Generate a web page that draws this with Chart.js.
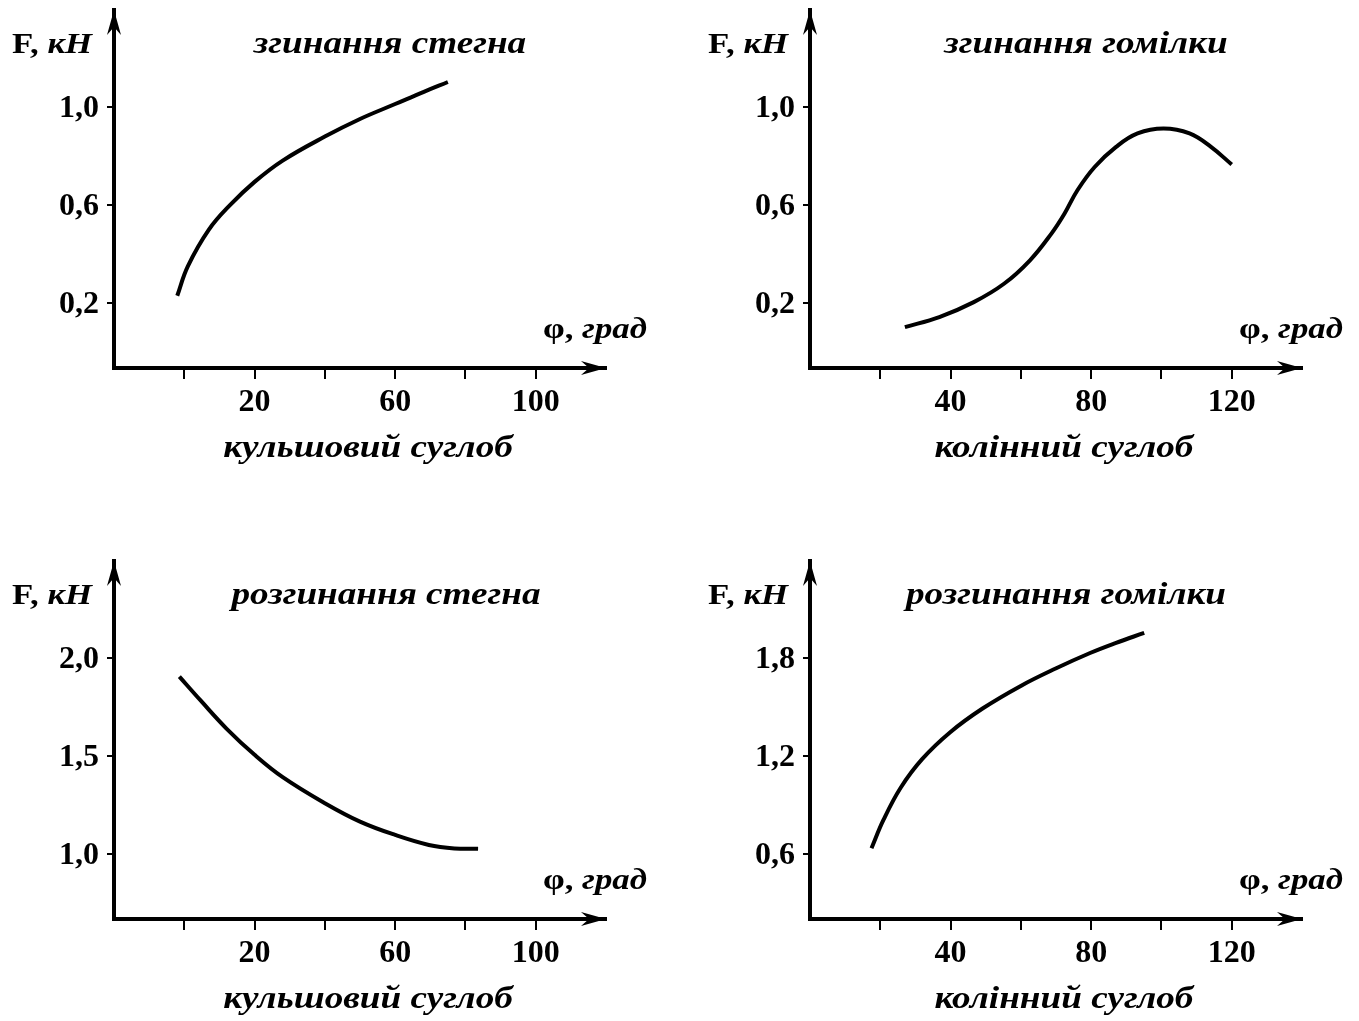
<!DOCTYPE html>
<html>
<head>
<meta charset="utf-8">
<script src="https://cdn.jsdelivr.net/npm/chart.js@4.4.1/dist/chart.umd.min.js"></script>
<style>
  html, body { margin: 0; padding: 0; background: #fff; overflow: hidden; }
  .panel { position: absolute; width: 680px; height: 480px; }
</style>
</head>
<body>
<div class="panel" style="left:0;top:0"><canvas id="hip-flex" width="680" height="480"></canvas></div>
<div class="panel" style="left:696px;top:0"><canvas id="knee-flex" width="680" height="480"></canvas></div>
<div class="panel" style="left:0;top:551px"><canvas id="hip-ext" width="680" height="480"></canvas></div>
<div class="panel" style="left:696px;top:551px"><canvas id="knee-ext" width="680" height="480"></canvas></div>
<script>
// ─── Data ─────────────────────────────────────────────────────────────────────
const hipFlexAngle = [-2, 1, 7, 13, 20, 28, 40, 50, 60, 68, 75];
const hipFlexForce = [0.23, 0.35, 0.50, 0.60, 0.695, 0.782, 0.88, 0.952, 1.013, 1.062, 1.103];

const kneeFlexAngle = [27, 36.8, 46.6, 55.2, 62.6, 68.7, 72.4, 76.1, 81, 87.1, 93.2, 100.6, 108, 114.1, 120];
const kneeFlexForce = [0.102, 0.143, 0.204, 0.279, 0.375, 0.484, 0.565, 0.661, 0.756, 0.838, 0.893, 0.913, 0.893, 0.838, 0.766];

const hipExtAngle = [-1.4, 4.7, 12, 20, 28, 40, 50, 60, 69.6, 76.9, 83.6];
const hipExtForce = [1.905, 1.782, 1.64, 1.506, 1.392, 1.259, 1.165, 1.097, 1.046, 1.028, 1.026];

const kneeExtAngle = [17.5, 20.9, 25.8, 31.9, 39.9, 49.1, 60.1, 69.9, 79.7, 87.1, 95.1];
const kneeExtForce = [0.635, 0.808, 1.005, 1.18, 1.345, 1.49, 1.63, 1.735, 1.83, 1.892, 1.953];

const hipAngleTicks = [0, 20, 40, 60, 80, 100];
const hipAngleLabels = [20, 60, 100];
const kneeAngleTicks = [20, 40, 60, 80, 100, 120];
const kneeAngleLabels = [40, 80, 120];

const flexForceTicks = [0.2, 0.6, 1.0];
const hipExtForceTicks = [1.0, 1.5, 2.0];
const kneeExtForceTicks = [0.6, 1.2, 1.8];

const titles = ['згинання стегна', 'згинання гомілки', 'розгинання стегна', 'розгинання гомілки'];
const jointNames = ['кульшовий суглоб', 'колінний суглоб'];

// ─── Styling ──────────────────────────────────────────────────────────────────
const SERIF = '"Liberation Serif", "Times New Roman", serif';
const BOLD = `bold 29px ${SERIF}`;
const BOLD_IT = `italic bold 29px ${SERIF}`;
const TITLE_FONT = `italic bold 31px ${SERIF}`;
const STRETCH = 1.2; // the scanned figure is wider than the type it was set in

// Text made of differently styled runs, widened horizontally
function drawRich(ctx, x, y, parts, align = 'left') {
  ctx.textAlign = 'left';
  let total = 0;
  parts.forEach(([text, font]) => { ctx.font = font; total += ctx.measureText(text).width; });
  ctx.save();
  ctx.translate(align === 'center' ? x - total * STRETCH / 2 : x, y);
  ctx.scale(STRETCH, 1);
  let cx = 0;
  parts.forEach(([text, font]) => {
    ctx.font = font;
    ctx.fillText(text, cx, 0);
    cx += ctx.measureText(text).width;
  });
  ctx.restore();
}

function arrowHead(ctx, tx, ty, dir) {
  const len = 25, half = 7, notch = 17;
  ctx.beginPath();
  if (dir === 'right') {
    ctx.moveTo(tx, ty);
    ctx.lineTo(tx - len, ty - half);
    ctx.lineTo(tx - notch, ty);
    ctx.lineTo(tx - len, ty + half);
  } else {
    ctx.moveTo(tx, ty);
    ctx.lineTo(tx - half, ty + len);
    ctx.lineTo(tx, ty + notch);
    ctx.lineTo(tx + half, ty + len);
  }
  ctx.closePath();
  ctx.fill();
}

// Arrows, axis names and captions
const decorPlugin = {
  id: 'decor',
  afterDraw(chart, args, o) {
    const ctx = chart.ctx;
    const { left, top, right, bottom } = chart.chartArea;
    const xLine = chart.scales.x._borderValue ?? bottom;
    const yLine = chart.scales.y._borderValue ?? left;
    ctx.save();
    ctx.fillStyle = '#000';
    ctx.strokeStyle = '#000';
    ctx.lineWidth = 4;
    ctx.beginPath();
    ctx.moveTo(right - 10, xLine);
    ctx.lineTo(right, xLine);
    ctx.moveTo(yLine, top + 10);
    ctx.lineTo(yLine, top);
    ctx.stroke();
    arrowHead(ctx, right, xLine, 'right');
    arrowHead(ctx, yLine, top, 'up');

    ctx.textBaseline = 'alphabetic';
    drawRich(ctx, 12, 53, [['F, ', BOLD], ['кН', BOLD_IT]]);
    drawRich(ctx, 543, 338, [['φ, ', BOLD], ['град', BOLD_IT]]);
    drawRich(ctx, o.titleX, 53, [[o.title, TITLE_FONT]], 'center');
    drawRich(ctx, 368, 457, [[o.joint, TITLE_FONT]], 'center');
    ctx.restore();
  }
};

const fmt = v => v.toFixed(1).replace('.', ',');

function makePanel(id, cfg) {
  const ctx = document.getElementById(id).getContext('2d');
  return new Chart(ctx, {
    type: 'line',
    data: {
      datasets: [{
        data: cfg.angle.map((a, i) => ({ x: a, y: cfg.force[i] })),
        borderColor: '#000',
        borderWidth: 4,
        borderCapStyle: 'butt',
        pointRadius: 0,
        tension: 0.4,
        fill: false,
      }],
    },
    options: {
      responsive: false,
      animation: false,
      layout: { padding: { left: 0, top: 10, right: 74, bottom: 0 } },
      plugins: {
        legend: { display: false },
        tooltip: { enabled: false },
        decor: { title: cfg.title, titleX: cfg.titleX, joint: cfg.joint },
      },
      scales: {
        x: {
          type: 'linear',
          min: cfg.xMin,
          max: cfg.xMax,
          afterFit: s => { s.height = 112; s.paddingLeft = 0; s.paddingRight = 0; },
          afterBuildTicks: s => { s.ticks = cfg.xTicks.map(v => ({ value: v })); },
          grid: { drawOnChartArea: false, drawTicks: true, tickLength: 11, color: '#000', lineWidth: 2 },
          border: { display: true, color: '#000', width: 4 },
          ticks: {
            autoSkip: false,
            maxRotation: 0,
            padding: 5,
            color: '#000',
            font: { family: SERIF, size: 32, weight: 'bold' },
            callback: v => (cfg.xLabels.includes(v) ? String(v) : ''),
          },
        },
        y: {
          type: 'linear',
          min: cfg.yMin,
          max: cfg.yMax,
          afterFit: s => { s.width = 114; s.paddingTop = 0; s.paddingBottom = 0; },
          afterBuildTicks: s => { s.ticks = cfg.yTicks.map(v => ({ value: v })); },
          grid: { drawOnChartArea: false, drawTicks: true, tickLength: 7, color: '#000', lineWidth: 2 },
          border: { display: true, color: '#000', width: 4 },
          ticks: {
            padding: 8,
            labelOffset: 2,
            color: '#000',
            font: { family: SERIF, size: 32, weight: 'bold' },
            callback: v => fmt(v),
          },
        },
      },
    },
    plugins: [decorPlugin],
  });
}

makePanel('hip-flex', {
  angle: hipFlexAngle, force: hipFlexForce,
  xMin: -20, xMax: 120, xTicks: hipAngleTicks, xLabels: hipAngleLabels,
  yMin: -0.065, yMax: 1.397, yTicks: flexForceTicks,
  title: titles[0], titleX: 390, joint: jointNames[0],
});
makePanel('knee-flex', {
  angle: kneeFlexAngle, force: kneeFlexForce,
  xMin: 0, xMax: 140, xTicks: kneeAngleTicks, xLabels: kneeAngleLabels,
  yMin: -0.065, yMax: 1.397, yTicks: flexForceTicks,
  title: titles[1], titleX: 390, joint: jointNames[1],
});
makePanel('hip-ext', {
  angle: hipExtAngle, force: hipExtForce,
  xMin: -20, xMax: 120, xTicks: hipAngleTicks, xLabels: hipAngleLabels,
  yMin: 0.668, yMax: 2.495, yTicks: hipExtForceTicks,
  title: titles[2], titleX: 386, joint: jointNames[0],
});
makePanel('knee-ext', {
  angle: kneeExtAngle, force: kneeExtForce,
  xMin: 0, xMax: 140, xTicks: kneeAngleTicks, xLabels: kneeAngleLabels,
  yMin: 0.2015, yMax: 2.393, yTicks: kneeExtForceTicks,
  title: titles[3], titleX: 370, joint: jointNames[1],
});
</script>
</body>
</html>
